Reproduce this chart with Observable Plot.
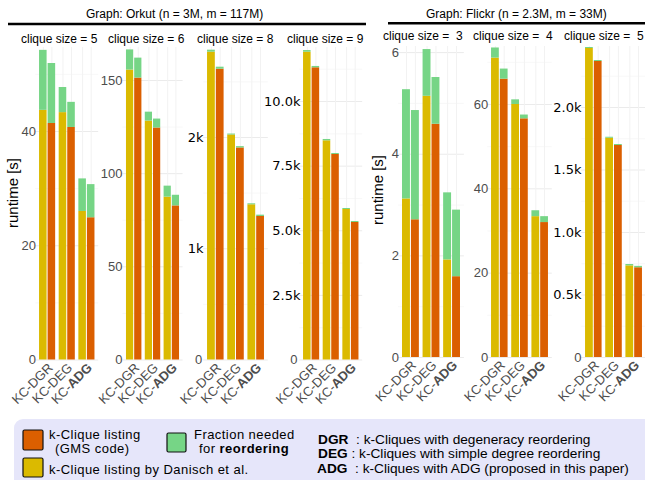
<!DOCTYPE html>
<html><head><meta charset="utf-8">
<script src="https://cdn.jsdelivr.net/npm/d3@7"></script>
<script src="https://cdn.jsdelivr.net/npm/@observablehq/plot@0.6"></script>
<style>
html,body{margin:0;padding:0;background:#fff;}
#chart{position:relative;width:645px;height:480px;overflow:hidden;font-family:"Liberation Sans",Arial,sans-serif;}
#chart svg{position:absolute;left:0;top:0;}
</style></head><body><div id="chart"></div>
<script>
// ---------- data ----------
const methods = ["DGR", "DEG", "ADG"];
const graphTitles = ["Graph: Orkut (n = 3M, m = 117M)", "Graph: Flickr (n = 2.3M, m = 33M)"];
const panelLabels = ["clique size = 5", "clique size = 6", "clique size = 8", "clique size = 9",
                     "clique size =  3", "clique size =  4", "clique size =  5"];
// k-Clique listing by Danisch et al. (yellow), runtime [s]
const danischListing = [[43.7, 43.3, 26.0], [155.6, 128.2, 87.4], [2767, 2022, 1395], [11907, 8479, 5822],
                        [3.12, 5.14, 1.92], [71.0, 60.0, 33.4], [2472, 1754, 733]];
// k-Clique listing (GMS code) (orange), runtime [s]
const gmsListing = [[41.4, 40.7, 24.9], [151.3, 124.5, 82.7], [2614, 1906, 1290], [11304, 7950, 5319],
                    [2.71, 4.59, 1.59], [66.0, 56.6, 32.0], [2368, 1696, 718]];
// fraction needed for reordering (green), stacked on top
const danischReorder = [[10.5, 4.4, 5.7], [10.8, 4.8, 5.9], [18, 9, 9], [64, 52, 39],
                        [2.15, 0.92, 1.32], [2.4, 1.1, 1.4], [8, 8, 11]];
const gmsReorder = [[10.5, 4.4, 5.8], [10.7, 4.8, 5.7], [18, 12, 12], [52, 39, 39],
                    [2.15, 0.92, 1.31], [2.4, 0.9, 1.4], [8, 8, 11]];
const yTicks = [[0, 20, 40], [0, 50, 100, 150], [0, 1000, 2000], [0, 2500, 5000, 7500, 10000],
                [0, 2, 4, 6], [0, 20, 40, 60], [0, 500, 1000, 1500, 2000]];
const yTickLabels = [["0", "20", "40"], ["0", "50", "100", "150"], ["0", "1k", "2k"], ["0", "2.5k", "5.0k", "7.5k", "10.0k"],
                     ["0", "2", "4", "6"], ["0", "20", "40", "60"], ["0", "0.5k", "1.0k", "1.5k", "2.0k"]];
const yMax = [54.7, 167.7, 2809, 12089, 6.12, 73.75, 2488];

// ---------- layout / style ----------
const W = 650, H = 480;
const panelX = [[35.3, 98.2], [122.4, 182.6], [203.2, 267.8], [299.3, 362.2], [398.1, 463.9], [487.2, 551.8], [581.2, 645.8]];
const tickRight = [35.5, 122, 203, 300, 398.5, 487.7, 581];
const zeroRight = [35.5, 122, 201.7, 297, 398.5, 487.7, 581];
const labelStart = [21, 108, 197, 287, 383, 473, 564];
const colors = {danisch: "#dbba00", gms: "#db5f00", reorder: "#76d586"};
const grey = "#4d4d4d";
const font = "'Liberation Sans', Arial, Helvetica, sans-serif";

const chart = document.getElementById("chart");

function panel(i) {
  const [left, right] = panelX[i];
  const orkut = i < 4;
  const baseline = orkut ? 359.5 : 357;
  const top = orkut ? 47 : 46;
  const pi = 0.18, po = 0.19;
  const step = (right - left) / (3 - pi + 2 * po);
  const bw = step * (1 - pi);
  const half = bw / 2 + 0.5;
  const q = bw / 4 + 0.25;
  const rows = methods.map((m, j) => ({
    method: m, d: danischListing[i][j], g: gmsListing[i][j],
    dr: danischReorder[i][j], gr: gmsReorder[i][j]
  }));
  const ticks = yTicks[i], labels = yTickLabels[i];
  const dt = ticks[1] - ticks[0];
  const minor = [];
  for (let t = dt / 2; t <= yMax[i]; t += dt) minor.push(t);
  const fmt = d => labels[ticks.indexOf(d)];
  const kTicks = ticks.filter((d, j) => labels[j].includes("k"));
  const plainTicks = ticks.filter((d, j) => !labels[j].includes("k"));
  const marks = [
    Plot.gridY(minor, {stroke: "#f4f4f4", strokeOpacity: 1, strokeWidth: 0.6}),
    Plot.gridY(ticks, {stroke: "#ebebeb", strokeOpacity: 1, strokeWidth: 1}),
    Plot.gridX(methods, {dx: -q, stroke: "#f2f2f2", strokeOpacity: 1, strokeWidth: 1}),
    Plot.gridX(methods, {dx: q, stroke: "#f2f2f2", strokeOpacity: 1, strokeWidth: 1}),
    Plot.barY(rows, {x: "method", y1: 0, y2: "d", fill: colors.danisch, insetRight: half}),
    Plot.barY(rows, {x: "method", y1: "d", y2: r => r.d + r.dr, fill: colors.reorder, insetRight: half}),
    Plot.barY(rows, {x: "method", y1: 0, y2: "g", fill: colors.gms, insetLeft: half}),
    Plot.barY(rows, {x: "method", y1: "g", y2: r => r.g + r.gr, fill: colors.reorder, insetLeft: half}),
    Plot.axisY(plainTicks, {tickSize: 0, tickPadding: 0, dx: (kTicks.length ? zeroRight[i] : tickRight[i]) - left,
      tickFormat: fmt, fontSize: 13, fill: grey, fontFamily: font, label: null}),
    Plot.text(methods, {x: d => d, frameAnchor: "bottom", text: d => "KC-" + d, rotate: -45,
      textAnchor: "end", lineAnchor: "bottom", dx: 6, dy: 8.5, fontSize: 13, fill: grey, fontFamily: font})
  ];
  if (kTicks.length) marks.push(Plot.axisY(kTicks, {tickSize: 0, tickPadding: 0, dx: tickRight[i] - left,
      tickFormat: fmt, fontSize: 13, fill: "black", fontFamily: "DejaVu Sans", label: null}));
  const svg = Plot.plot({
    width: W, height: H,
    marginLeft: left, marginRight: W - right, marginTop: top, marginBottom: H - baseline,
    style: {background: "transparent", fontFamily: font, overflow: "visible", maxWidth: "none"},
    x: {type: "band", domain: methods, paddingInner: pi, paddingOuter: po, round: false, axis: null},
    y: {domain: [0, yMax[i]], axis: null, label: null},
    marks
  });
  svg.querySelectorAll("text").forEach(t => {
    if (t.textContent === "KC-ADG") {
      t.textContent = "KC-";
      const ts = document.createElementNS("http://www.w3.org/2000/svg", "tspan");
      ts.setAttribute("font-weight", "bold");
      ts.textContent = "ADG";
      t.appendChild(ts);
    }
  });
  return svg;
}

for (let i = 0; i < 7; i++) chart.appendChild(panel(i));

// ---------- overlay: titles, strip labels, axis titles, legend ----------
const ov = d3.create("svg").attr("width", 645).attr("height", 480)
  .attr("font-family", font).style("overflow", "hidden");

ov.append("text").attr("x", 86).attr("y", 18).attr("font-size", 12).attr("fill", "black").text(graphTitles[0]);
ov.append("text").attr("x", 426).attr("y", 17.5).attr("font-size", 12).attr("fill", "black").text(graphTitles[1]);
ov.append("line").attr("x1", 8).attr("x2", 366).attr("y1", 24).attr("y2", 24).attr("stroke", "black").attr("stroke-width", 2.5);
ov.append("line").attr("x1", 388).attr("x2", 645).attr("y1", 23.3).attr("y2", 23.3).attr("stroke", "black").attr("stroke-width", 2.5);

panelLabels.forEach((s, i) => {
  ov.append("text").attr("x", labelStart[i]).attr("y", i < 4 ? 43 : 40).attr("font-size", 12)
    .attr("fill", "black").style("white-space", "pre").text(s);
});

[[13, 193], [378, 190]].forEach(([x, y]) => {
  ov.append("text").attr("transform", `translate(${x + 5},${y}) rotate(-90)`).attr("text-anchor", "middle")
    .attr("font-size", 15).attr("fill", "black").text("runtime [s]");
});

// legend
ov.append("rect").attr("x", 14).attr("y", 419).attr("width", 645).attr("height", 80).attr("rx", 9).attr("fill", "#e6e6fa");
ov.append("rect").attr("x", 23).attr("y", 430).attr("width", 20).attr("height", 20).attr("rx", 1.5)
  .attr("fill", colors.gms).attr("stroke", "#111").attr("stroke-width", 1.2);
ov.append("rect").attr("x", 23).attr("y", 458).attr("width", 20).attr("height", 19).attr("rx", 1.5)
  .attr("fill", colors.danisch).attr("stroke", "#111").attr("stroke-width", 1.2);
ov.append("rect").attr("x", 167).attr("y", 433).attr("width", 19).attr("height", 19).attr("rx", 1.5)
  .attr("fill", colors.reorder).attr("stroke", "#111").attr("stroke-width", 1.2);

function legText(x, y, size, spacing, parts) {
  const t = ov.append("text").attr("x", x).attr("y", y).attr("font-size", size).attr("fill", "black")
    .attr("letter-spacing", spacing).style("white-space", "pre");
  parts.forEach(([s, b]) => t.append("tspan").attr("font-weight", b ? "bold" : "normal").text(s));
}
legText(49, 439, 13, 0.45, [["k-Clique listing"]]);
legText(55, 453, 13, 0.45, [["(GMS code)"]]);
legText(49, 474, 13, 0.45, [["k-Clique listing by Danisch et al."]]);
legText(194, 439, 13, 0.45, [["Fraction needed"]]);
legText(199, 453, 13, 0.45, [["for "], ["reordering", true]]);
legText(318, 444, 13.7, 0, [["DGR", true], ["  : k-Cliques with degeneracy reordering"]]);
legText(318, 458, 13.7, 0, [["DEG", true], [" : k-Cliques with simple degree reordering"]]);
legText(317, 473, 13.7, 0, [["ADG", true], ["  : k-Cliques with ADG (proposed in this paper)"]]);

chart.appendChild(ov.node());
</script></body></html>
